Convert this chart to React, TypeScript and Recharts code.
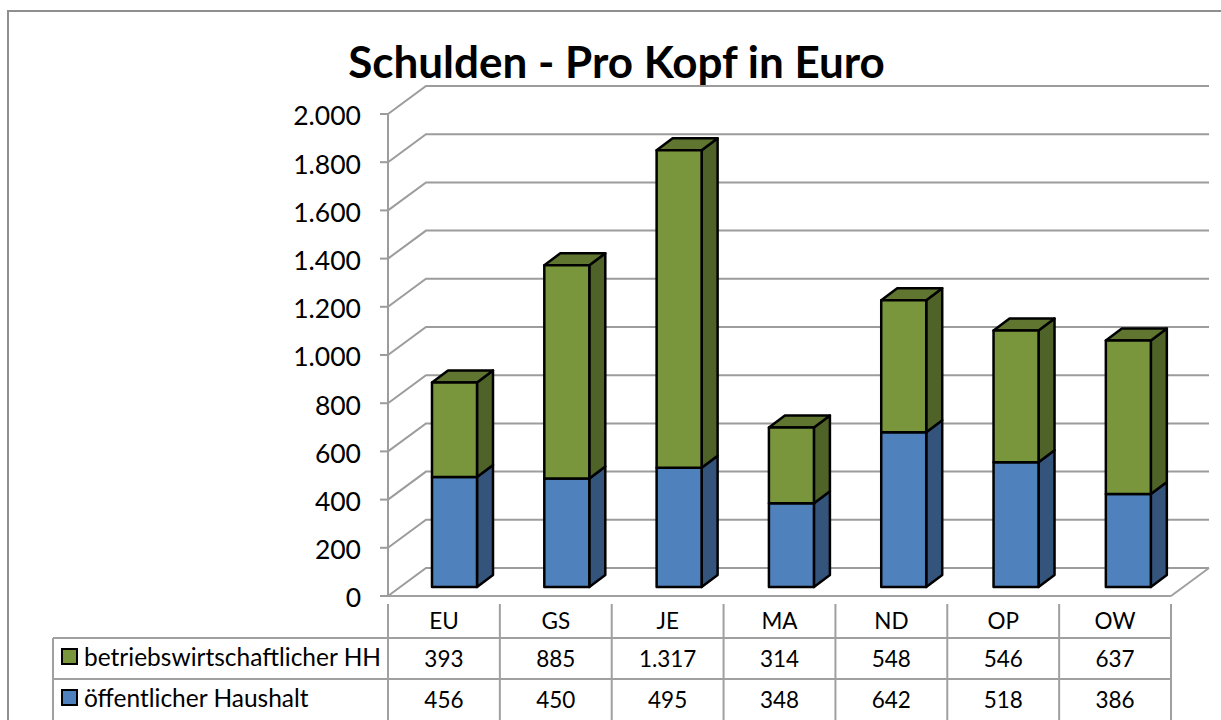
import { BarChart, Bar, XAxis, YAxis, CartesianGrid, Customized } from "recharts";

const categories = ["EU", "GS", "JE", "MA", "ND", "OP", "OW"];
const publicBudget = [456, 450, 495, 348, 642, 518, 386];
const businessBudget = [393, 885, 1317, 314, 548, 546, 637];
const yTicks = [0, 200, 400, 600, 800, 1000, 1200, 1400, 1600, 1800, 2000];

const PUBLIC_NAME = "öffentlicher Haushalt";
const BUSINESS_NAME = "betriebswirtschaftlicher HH";

const data = categories.map((cat, i) => ({
  cat,
  pub: publicBudget[i],
  bus: businessBudget[i],
}));

const FONT = "Lato, 'Open Sans', sans-serif";
const GRID = "#9c9c9c";
const TABLE = "#a0a0a0";

// oblique depth of the fake 3D box
const WALL_DX = 38;
const WALL_DY = 28;
const BAR_DX = 16;
const BAR_DY = 12;

const fmt = (v: number) => v.toLocaleString("de-DE");

function Block(props: any) {
  const { x, y, width, height, index, front, side, top } = props;
  // bars stand a bit inside the floor, not on its front edge
  const bx = x + 11 + index * 0.45;
  const by = y - 9;
  const r = bx + width;
  const b = by + height;
  const common = { stroke: "#000", strokeWidth: 2.5, strokeLinejoin: "round" as const };
  return (
    <g>
      <polygon
        points={`${r},${by} ${r + BAR_DX},${by - BAR_DY} ${r + BAR_DX},${b - BAR_DY} ${r},${b}`}
        fill={side}
        {...common}
      />
      {top && (
        <polygon
          points={`${bx},${by} ${bx + BAR_DX},${by - BAR_DY} ${r + BAR_DX},${by - BAR_DY} ${r},${by}`}
          fill={top}
          {...common}
        />
      )}
      <rect x={bx} y={by} width={width} height={height} fill={front} {...common} />
    </g>
  );
}

function WallLine(props: any) {
  const { x1, x2, y1 } = props;
  return (
    <polyline
      points={`${x1},${y1} ${x1 + WALL_DX},${y1 - WALL_DY} ${x2 + WALL_DX},${y1 - WALL_DY}`}
      fill="none"
      stroke={GRID}
      strokeWidth={2}
    />
  );
}

// category label plus the data table cells underneath it
function TableTick(props: any) {
  const { x, y, index, payload } = props;
  const colW = 783 / categories.length;
  const left = x - colW / 2;
  const cell = { textAnchor: "middle" as const, fontSize: 22.5, fontFamily: FONT, fill: "#000" };
  return (
    <g>
      <line x1={left} x2={left} y1={y} y2={720} stroke={TABLE} strokeWidth={2} />
      {index === categories.length - 1 && (
        <line x1={left + colW} x2={left + colW} y1={y} y2={720} stroke={TABLE} strokeWidth={2} />
      )}
      <text x={x} y={629} {...cell}>{payload.value}</text>
      <text x={x} y={667} {...cell}>{fmt(businessBudget[index])}</text>
      <text x={x} y={708} {...cell}>{fmt(publicBudget[index])}</text>
    </g>
  );
}

function TableFrame() {
  return (
    <g stroke={TABLE} strokeWidth={2}>
      <line x1={53} x2={1171} y1={638} y2={638} />
      <line x1={53} x2={1171} y1={679} y2={679} />
      <line x1={53} x2={53} y1={638} y2={720} />
      <line x1={1171} x2={1171 + WALL_DX} y1={596} y2={596 - WALL_DY} />
    </g>
  );
}

function TableLegend() {
  const rows = [
    { name: BUSINESS_NAME, fill: "#7A963C" },
    { name: PUBLIC_NAME, fill: "#4F81BD" },
  ];
  return (
    <div
      style={{
        position: "absolute",
        left: 61,
        top: 636,
        fontFamily: FONT,
        fontSize: 24.5,
        color: "#000",
      }}
    >
      {rows.map((r) => (
        <div key={r.name} style={{ height: 41, display: "flex", alignItems: "center", whiteSpace: "nowrap" }}>
          <span
            style={{
              width: 13,
              height: 13,
              background: r.fill,
              border: "2px solid #000",
              marginRight: 6,
              display: "inline-block",
            }}
          />
          {r.name}
        </div>
      ))}
    </div>
  );
}

export default function App() {
  return (
    <div
      style={{
        position: "absolute",
        left: 0,
        top: 0,
        width: 1221,
        height: 720,
        overflow: "hidden",
        background: "#fff",
      }}
    >
      <div
        style={{
          position: "absolute",
          left: 7,
          top: 10,
          width: 1300,
          height: 800,
          border: "2px solid #8f8f8f",
        }}
      />
      <div
        style={{
          position: "absolute",
          left: 0,
          width: 1233,
          top: 34,
          textAlign: "center",
          fontFamily: FONT,
          fontWeight: 700,
          fontSize: 44,
          lineHeight: "54px",
          color: "#000",
        }}
      >
        Schulden - Pro Kopf in Euro
      </div>
      <BarChart
        width={1221}
        height={720}
        data={data}
        margin={{ top: 114, right: 50, left: 328, bottom: 0 }}
        style={{ position: "absolute", left: 0, top: 0 }}
      >
        <CartesianGrid horizontal={(p: any) => <WallLine key={p.key} {...p} />} vertical={false} />
        <XAxis
          dataKey="cat"
          height={124}
          interval={0}
          axisLine={{ stroke: TABLE, strokeWidth: 2 }}
          tickLine={false}
          tick={<TableTick />}
        />
        <YAxis
          width={60}
          domain={[0, 2000]}
          ticks={yTicks}
          interval={0}
          tickSize={8}
          tickMargin={19}
          tickFormatter={fmt}
          axisLine={{ stroke: GRID, strokeWidth: 2 }}
          tickLine={{ stroke: GRID, strokeWidth: 2 }}
          tick={{ fontSize: 26.5, fontFamily: FONT, fill: "#000", dy: 2 }}
        />
        <Bar
          dataKey="pub"
          name={PUBLIC_NAME}
          stackId="a"
          barSize={45}
          isAnimationActive={false}
          shape={(p: any) => <Block {...p} front="#4F81BD" side="#34547C" />}
        />
        <Bar
          dataKey="bus"
          name={BUSINESS_NAME}
          stackId="a"
          barSize={45}
          isAnimationActive={false}
          shape={(p: any) => <Block {...p} front="#7A963C" side="#4F6228" top="#5F7530" />}
        />
        <Customized component={TableFrame} />
      </BarChart>
      <TableLegend />
    </div>
  );
}
